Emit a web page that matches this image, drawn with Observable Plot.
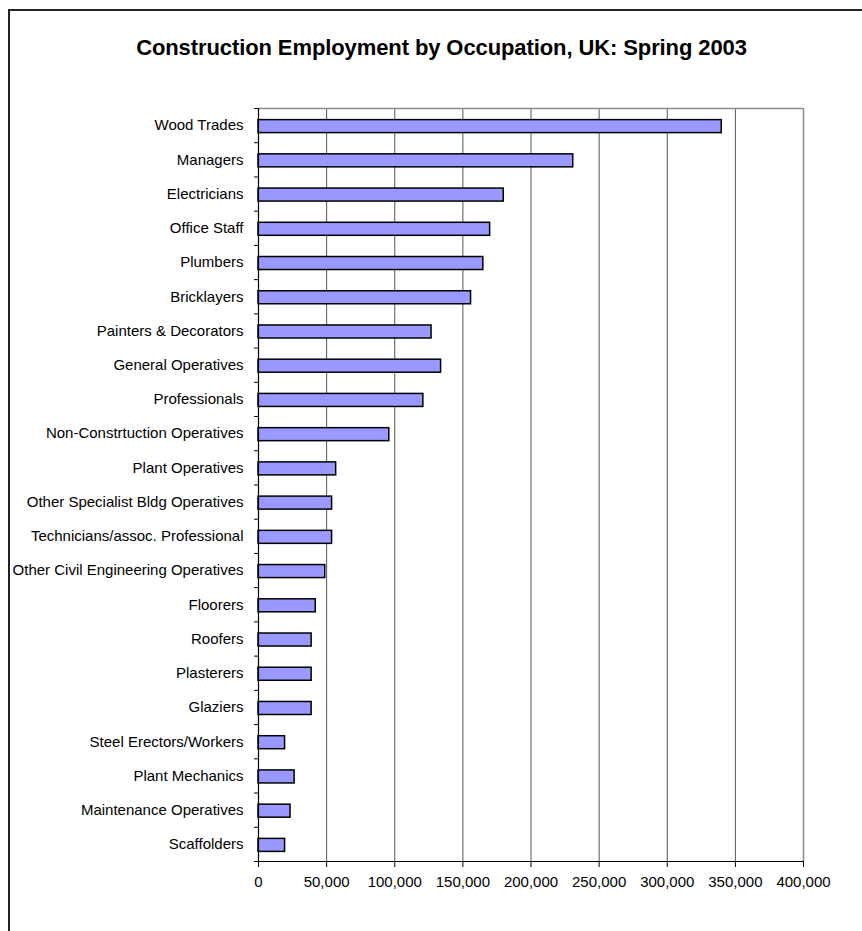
<!DOCTYPE html>
<html>
<head>
<meta charset="utf-8">
<script src="https://cdn.jsdelivr.net/npm/d3@7"></script>
<script src="https://cdn.jsdelivr.net/npm/@observablehq/plot@0.6"></script>
<style>
  html, body { margin: 0; padding: 0; background: #fff; }
  #wrap { position: relative; width: 862px; height: 931px; overflow: hidden; background: #fff; font-family: "Liberation Sans", Arial, sans-serif; }
  #border { position: absolute; left: 8px; top: 9px; width: 900px; height: 1000px; border-left: 2px solid #222; border-top: 2px solid #222; box-sizing: border-box; pointer-events: none; }
  #title { position: relative; height: 80px; box-sizing: border-box; padding-top: 36px; text-align: center; width: 883px; font-weight: bold; font-size: 22px; color: #000; line-height: 24px; letter-spacing: -0.1px; }
  #chart svg { display: block; }
</style>
</head>
<body>
<div id="wrap">
  <div id="title">Construction Employment by Occupation, UK: Spring 2003</div>
  <div id="chart"></div>
  <div id="border"></div>
</div>
<script>
const occupations = [
  "Wood Trades", "Managers", "Electricians", "Office Staff", "Plumbers", "Bricklayers",
  "Painters & Decorators", "General Operatives", "Professionals", "Non-Constrtuction Operatives",
  "Plant Operatives", "Other Specialist Bldg Operatives", "Technicians/assoc. Professional",
  "Other Civil Engineering Operatives", "Floorers", "Roofers", "Plasterers", "Glaziers",
  "Steel Erectors/Workers", "Plant Mechanics", "Maintenance Operatives", "Scaffolders"
];
const employment = [
  340000, 231000, 180000, 170000, 165000, 156000,
  127000, 134000, 121000, 96000,
  57000, 54000, 54000,
  49000, 42000, 39000, 39000, 39000,
  19500, 26500, 23500, 19500
];
const xTicks = [0, 50000, 100000, 150000, 200000, 250000, 300000, 350000, 400000];
const gridValues = [50000, 100000, 150000, 200000, 250000, 300000, 350000];

const data = occupations.map((name, i) => ({name, value: employment[i]}));

const height = 851, marginTop = 28, marginBottom = 70;
const step = (height - marginTop - marginBottom) / occupations.length;

const chart = Plot.plot({
  width: 862,
  height,
  marginLeft: 258,
  marginRight: 59,
  marginTop,
  marginBottom,
  style: {fontFamily: "'Liberation Sans', Arial, sans-serif", fontSize: "15px", color: "#000", background: "#fff"},
  x: {domain: [0, 400000], axis: null, label: null},
  y: {domain: occupations, paddingInner: 0.62, paddingOuter: 0.31, round: false, axis: null, label: null},
  marks: [
    Plot.ruleX(gridValues, {stroke: "#555", strokeWidth: 1}),
    Plot.ruleX([400000], {stroke: "#8c8c8c", strokeWidth: 1.5}),
    Plot.ruleY([occupations[0]], {dy: -step / 2, stroke: "#8c8c8c", strokeWidth: 1.5}),
    Plot.barX(data, {x: "value", y: "name", fill: "#9999ff", stroke: "#000", strokeWidth: 1.5, dy: 1}),
    Plot.ruleX([0], {stroke: "#000", strokeWidth: 1.2}),
    Plot.ruleY([occupations[occupations.length - 1]], {dy: step / 2, stroke: "#000", strokeWidth: 1.2, insetLeft: -4}),
    Plot.axisY({tickSize: 4, text: null, label: null, dy: -step / 2, stroke: "#000"}),
    Plot.axisY({tickSize: 0, tickPadding: 15, label: null, fontSize: 15, fill: "#000"}),
    Plot.axisX({ticks: xTicks, tickSize: 6, tickPadding: 9, label: null, fontSize: 15, tickFormat: d3.format(","), stroke: "#000", fill: "#000"})
  ]
});
document.getElementById("chart").appendChild(chart);
</script>
</body>
</html>
